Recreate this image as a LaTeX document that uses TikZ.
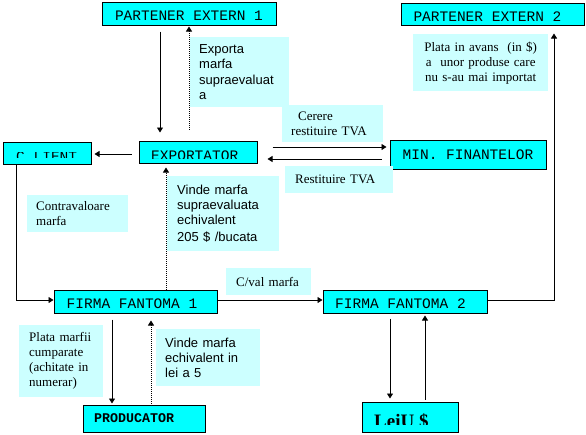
\documentclass[tikz,border=0pt]{standalone}
\usepackage{fontspec}
\setmainfont{Liberation Serif}
\setsansfont{Liberation Sans}
\setmonofont{Liberation Mono}
\usetikzlibrary{arrows.meta}
\definecolor{boxcyan}{HTML}{00FFFF}
\definecolor{notecyan}{HTML}{CCFFFF}
\tikzset{
  entity/.style={
    draw=black,
    fill=boxcyan,
    line width=1pt,
    inner sep=0pt,
    font=\ttfamily\fontsize{14.5}{16}\selectfont,
    text height=14.5pt,
    text depth=0pt
  },
  note/.style={fill=notecyan, anchor=north west, inner xsep=9pt, inner ysep=0pt, align=left},
  sansnote/.style={note, font=\sffamily\fontsize{13}{15.3}\selectfont},
  serifnote/.style={note, font=\rmfamily\fontsize{13}{15}\selectfont},
  boxtext/.style={anchor=base west, inner sep=0pt, font=\ttfamily\fontsize{14.5}{16}\selectfont},
  arrow/.style={-{Triangle[length=5pt,width=6pt]}, line width=0.9pt, draw=black},
  dotarrow/.style={arrow, dash pattern=on 1pt off 1pt}
}

\begin{document}
\begin{tikzpicture}[x=1pt,y=-1pt]
  \useasboundingbox[fill=white] (0,0) rectangle (586,434);

  % partners
  \node[entity, minimum width=174pt, minimum height=23pt] (pe1) at (189,13.5) {PARTENER EXTERN 1};
  \node[entity, minimum width=183pt, minimum height=22pt] (pe2) at (492.5,14) {PARTENER EXTERN 2\hspace*{10pt}};
  \node[entity, minimum width=156pt, minimum height=29pt, text height=9.5pt] (minfin) at (468,154.5) {MIN. FINANTELOR};

  % client and exporter (text cut off)
  \node[entity, minimum width=88pt, minimum height=22pt] (client) at (47,153) {};
  \begin{scope}
    \clip (4,152) rectangle (90,157.5);
    \node[boxtext] (clienttxt) at (16,161.6) {C LIENT};
  \end{scope}
  \node[entity, minimum width=118pt, minimum height=22pt] (export) at (198,152) {};
  \begin{scope}
    \clip (140,141.5) rectangle (256,158);
    \node[boxtext] (exporttxt) at (151,160.3) {EXPORTATOR};
  \end{scope}

  % phantom firms
  \node[entity, minimum width=163pt, minimum height=23pt] (ff1) at (135.5,301.5) {FIRMA FANTOMA 1\hspace*{7pt}};
  \node[entity, minimum width=164pt, minimum height=23pt] (ff2) at (405,301.5) {FIRMA FANTOMA 2\hspace*{9pt}};

  % bottom row
  \node[entity, minimum width=122pt, minimum height=27pt] (prod) at (144,418.5) {};
  \node[boxtext, font=\ttfamily\bfseries\fontsize{13.3}{15}\selectfont] (prodtxt) at (94,422) {PRODUCATOR};
  \node[entity, minimum width=96pt, minimum height=30pt] (leiu) at (410,417) {};
  \begin{scope}
    \clip (363,403) rectangle (457,424);
    \node[boxtext, font=\rmfamily\bfseries\fontsize{19}{21}\selectfont] (leiutxt) at (374,427) {LeiU \$};
  \end{scope}

  % notes
  \node[sansnote, minimum height=70pt, text width=81pt] (lexp) at (190,37) {Exporta\\marfa\\supraevaluat\\a};
  \node[serifnote, minimum height=57pt, inner xsep=10pt, text width=115pt, align=center] (lplata) at (413,34) {Plata in avans\ \ (in \$)\\a\ \ unor produse care\\nu s-au mai importat};
  \node[serifnote, minimum height=37pt, text width=83pt] (lcerere) at (282,105) {\hspace*{7pt}Cerere\\restituire TVA};
  \node[serifnote, minimum height=27pt, inner xsep=10pt, text width=88pt] (lrest) at (285,166) {Restituire TVA};
  \node[sansnote, minimum height=75pt, inner xsep=10pt, text width=92pt] (lvinde1) at (167,176) {Vinde marfa\\supraevaluata\\echivalent\\[1.7pt]205 \$ /bucata};
  \node[serifnote, minimum height=37pt, text width=83pt] (lcontra) at (27,195) {Contravaloare\\marfa};
  \node[serifnote, minimum height=27pt, inner xsep=10pt, text width=65pt] (lcval) at (226,268) {C/val marfa};
  \node[serifnote, minimum height=72pt, inner xsep=10pt, text width=64pt] (lplatam) at (19,325) {Plata marfii\\cumparate\\(achitate in\\numerar)};
  \node[sansnote, minimum height=57pt, text width=86pt] (lvinde2) at (156,329) {Vinde marfa\\echivalent in\\lei a 5};

  % arrows
  \draw[arrow, shorten <=6pt, shorten >=8pt] ([xshift=-29pt]pe1.south) -- ([xshift=-38pt]export.north);
  \draw[dotarrow, shorten <=11pt, shorten >=1pt] ([xshift=-9pt]export.north) -- (pe1.south);
  \draw[arrow, shorten <=7pt, shorten >=3pt] ([yshift=-2pt]export.west) -- ([yshift=-1pt]client.east);
  \draw[arrow, shorten <=15pt, shorten >=3pt] ([yshift=5pt]export.east) -- ([yshift=7.5pt]minfin.west);
  \draw[arrow, shorten <=8pt, shorten >=10pt] ([yshift=-4.5pt]minfin.west) -- ([yshift=-7pt]export.east);
  \draw[arrow] ([xshift=-31pt]client.south) |- ([yshift=1.5pt]ff1.west);
  \draw[arrow] ([yshift=1.5pt]ff1.east) -- ([yshift=1.5pt]ff2.west);
  \draw[arrow, shorten >=8pt] ([yshift=1.5pt]ff2.east) -| ([xshift=61.5pt]pe2.south);
  \draw[dotarrow, shorten >=4pt] ([xshift=30.5pt]ff1.north) -- ([xshift=-32pt]export.south);
  \draw[arrow, shorten <=6pt, shorten >=1pt] ([xshift=-23.5pt]ff1.south) -- ([xshift=-32pt]prod.north);
  \draw[dotarrow, shorten <=1pt, shorten >=7pt] ([xshift=7pt]prod.north) -- ([xshift=15.5pt]ff1.south);
  \draw[arrow, shorten <=5pt, shorten >=3pt] ([xshift=-15pt]ff2.south) -- ([xshift=-20pt]leiu.north);
  \draw[arrow, shorten <=2pt, shorten >=2pt] ([xshift=15pt]leiu.north) -- ([xshift=20pt]ff2.south);
\end{tikzpicture}
\end{document}
